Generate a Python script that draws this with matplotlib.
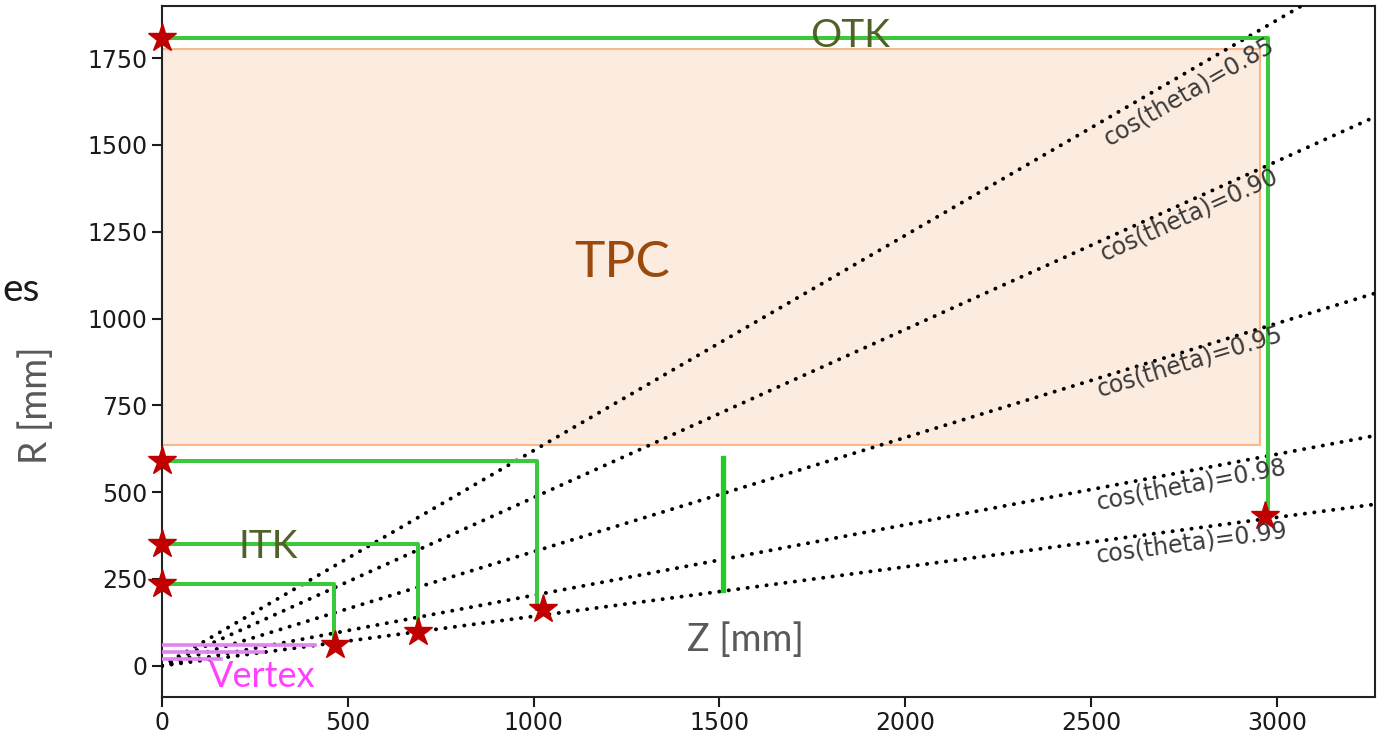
import matplotlib.pyplot as plt
import numpy as np
from matplotlib.transforms import offset_copy

# cos(theta) acceptance lines
cos_values = [0.85, 0.90, 0.95, 0.98, 0.99]
label_z = [2740, 2750, 2758, 2764, 2767]
label_drop = [18, 12, 11, 14, 14]  # px below the line

# tracker layers: barrel radius, half length, end-cap star (z, R)
layer_R = [235, 350, 590, 1808]
layer_z = [462, 689, 1010, 2975]
end_star_z = [465, 689, 1025, 2968]
end_star_R = [60, 97, 163, 430]

# TPC volume
tpc_z = [0, 2955]
tpc_R = [636, 1775]

# vertex layers (R, length)
vtx_R = [60, 39, 21]
vtx_len = [412, 272, 160]

# extra green marker
bar_z = 1510
bar_R = [218, 598]

fig = plt.figure(figsize=(13.78, 7.35), dpi=100)
ax = fig.add_axes([162 / 1378, 1 - 696.7 / 735, (1375 - 162) / 1378, (696.7 - 6) / 735])
ax.set_xlim(0, 3264)
ax.set_ylim(-89, 1900)


def px(x, y):
    # pixel position -> data coordinates
    return (x - 162) / 0.3716, (665.7 - y) / 0.3471


ax.fill_between(tpc_z, tpc_R[0], tpc_R[1], facecolor='#fcebdf', edgecolor='#f8b88a', lw=1.5, zorder=1)

zz = np.array([0, 3400])
green = '#3cc83c'
for c in cos_values:
    t = np.tan(np.arccos(c))
    ax.plot(zz, zz * t, color='black', lw=2.8, linestyle=(0, (0.05, 2.4)), dash_capstyle='round', zorder=3)

for R, z, sz, sR in zip(layer_R, layer_z, end_star_z, end_star_R):
    ax.plot([0, z, z], [R, R, sR], color=green, lw=2.9, zorder=4)
    ax.plot([0, sz], [R, sR], linestyle='none', marker='*', ms=21, color='#c00000', zorder=5, clip_on=False)

ax.plot([bar_z, bar_z], bar_R, color='#22cc22', lw=3.8, zorder=4)

for R, L in zip(vtx_R, vtx_len):
    ax.plot([0, L], [R, R], color='#e084f0', lw=2.6, zorder=4)

# angled labels
fig.canvas.draw()
for c, z, d in zip(cos_values, label_z, label_drop):
    t = np.tan(np.arccos(c))
    p0 = ax.transData.transform((0, 0))
    p1 = ax.transData.transform((1000, 1000 * t))
    ang = np.degrees(np.arctan2(p1[1] - p0[1], p1[0] - p0[0]))
    a = np.radians(ang)
    tr = offset_copy(ax.transData, fig=fig, x=np.sin(a) * d, y=-np.cos(a) * d, units='dots')
    ax.text(z, z * t, f'cos(theta)={c:.2f}', transform=tr, rotation=ang, rotation_mode='anchor',
            ha='center', va='center', fontsize=17, color='#3a3a3a', zorder=6)

ax.set_xticks(np.arange(0, 3001, 500))
ax.set_yticks(np.arange(0, 1751, 250))
ax.tick_params(labelsize=17, length=7, width=1.5, colors='#1a1a1a')
for s in ax.spines.values():
    s.set_linewidth(1.5)
    s.set_color('#222222')

font = 'Lato'
ax.text(*px(622, 263), 'TPC', fontsize=37, color='#9a4a0c', family=font, ha='center', va='center', zorder=7)
ax.text(*px(850, 36), 'OTK', fontsize=28, color='#4f6228', family=font, ha='center', va='center', zorder=7)
ax.text(*px(268, 547), 'ITK', fontsize=28, color='#4f6228', family=font, ha='center', va='center', zorder=7)
ax.text(*px(262, 676), 'Vertex', fontsize=26, color='#ff40ff', family=font, ha='center', va='center', zorder=7)
ax.text(*px(745, 640), 'Z [mm]', fontsize=27, color='#595959', family=font, ha='center', va='center', zorder=7)
fig.text(36 / 1378, 1 - 405 / 735, 'R [mm]', fontsize=27, color='#595959', family=font, rotation=90,
         ha='center', va='center')
fig.text(2 / 1378, 1 - 290 / 735, 'es', fontsize=28, color='#1a1a1a', family=font, ha='left', va='center')

fig.savefig('out.png', dpi=100)
